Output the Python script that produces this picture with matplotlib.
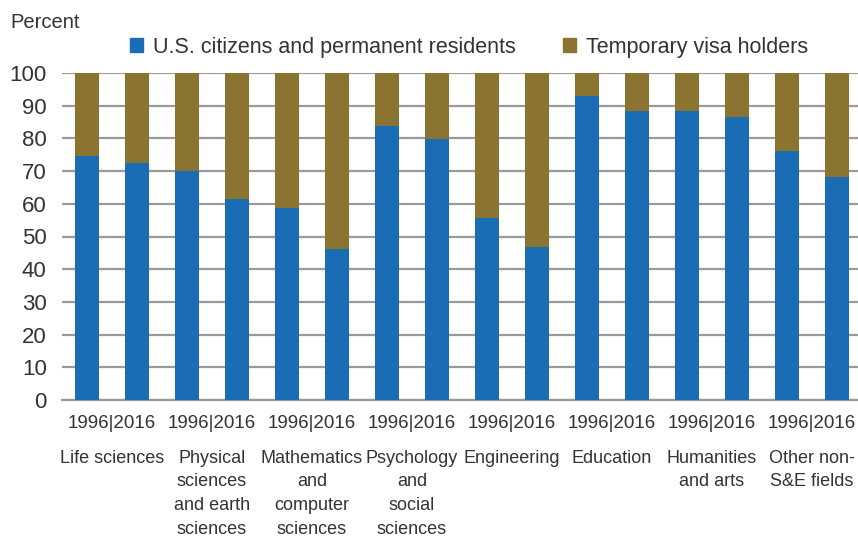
import matplotlib
matplotlib.use("Agg")
import matplotlib.pyplot as plt
import matplotlib.transforms as mtransforms
from matplotlib.patches import Patch

plt.rcParams['font.family'] = ['Liberation Sans Narrow', 'Liberation Sans', 'DejaVu Sans']

fields = ["Life sciences", "Physical\nsciences\nand earth\nsciences",
          "Mathematics\nand\ncomputer\nsciences", "Psychology\nand\nsocial\nsciences",
          "Engineering", "Education", "Humanities\nand arts", "Other non-\nS&E fields"]
years = ["1996", "2016"]
us_1996 = [74.5, 70.0, 58.7, 83.9, 55.6, 92.9, 88.3, 76.2]
us_2016 = [72.4, 61.6, 46.3, 79.7, 46.7, 88.4, 86.6, 68.1]
series_names = ["U.S. citizens and permanent residents", "Temporary visa holders"]
yticks = list(range(0, 101, 10))

blue = "#1a6db5"
gold = "#8a7430"
txt = "#333333"

fig = plt.figure(figsize=(8.58, 5.38), dpi=100)
ax = fig.add_axes([62/858, 1-400/538, 1-62/858, (400-73)/538])

xs, us_vals = [], []
for i in range(len(fields)):
    xs += [2*i, 2*i+1]
    us_vals += [us_1996[i], us_2016[i]]
visa_vals = [100 - v for v in us_vals]

ax.bar(xs, us_vals, width=0.48, color=blue, zorder=3)
ax.bar(xs, visa_vals, width=0.48, bottom=us_vals, color=gold, zorder=3)

ax.set_xlim(-0.5, 15.42)
ax.set_ylim(0, 100)
ax.set_yticks(yticks)
ax.set_yticklabels([str(t) for t in yticks], fontsize=16, color=txt)
ax.yaxis.grid(True, color="#9a9a9a", linewidth=1.6, zorder=0)
ax.set_axisbelow(True)
ax.tick_params(axis='y', length=0, pad=11)
ax.tick_params(axis='x', length=0, pad=11)
for s in ["top", "right", "left"]:
    ax.spines[s].set_visible(False)
ax.spines["bottom"].set_color("#9a9a9a")
ax.spines["bottom"].set_linewidth(1.6)

pair_centers = [2*i + 0.5 for i in range(len(fields))]
ax.set_xticks(pair_centers)
ax.set_xticklabels([years[0] + "|" + years[1]] * len(fields), fontsize=13.5, color=txt)

trans = mtransforms.blended_transform_factory(ax.transData, fig.transFigure)
for c, f in zip(pair_centers, fields):
    ax.text(c, 1-450/538, f, transform=trans, ha='center', va='top',
            fontsize=13, color=txt, linespacing=1.5)

fig.text(10/858, 1-23/538, "Percent", fontsize=14.5, color=txt, va='center', ha='left')

handles = [Patch(color=blue), Patch(color=gold)]
fig.legend(handles, series_names, loc='center left', bbox_to_anchor=(124/858, 1-47/538),
           ncol=2, frameon=False, fontsize=15.5, handlelength=0.6, handleheight=0.6,
           handletextpad=0.45, columnspacing=2.2, labelcolor=txt, borderaxespad=0, borderpad=0.3)

fig.savefig("out.png", dpi=100)
